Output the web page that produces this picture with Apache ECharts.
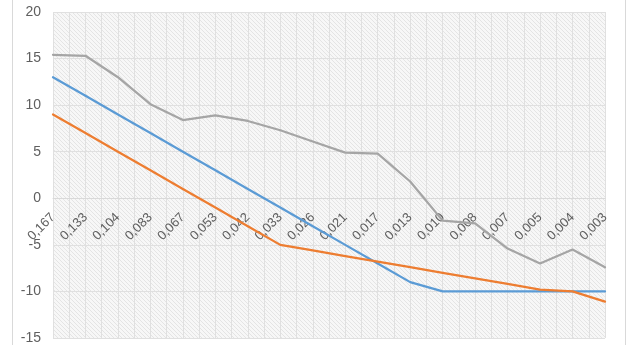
<!DOCTYPE html>
<html>
<head>
<meta charset="utf-8">
<style>
  html, body { margin: 0; padding: 0; background: #ffffff; }
  #chart { width: 628px; height: 345px; }
</style>
<script src="https://cdn.jsdelivr.net/npm/echarts@6/dist/echarts.min.js"></script>
</head>
<body>
<div id="chart"></div>
<script>
// Category labels along the horizontal axis (decimal comma, as printed)
const categories = ['0,167', '0,133', '0,104', '0,083', '0,067', '0,053', '0,042', '0,033', '0,026',
                    '0,021', '0,017', '0,013', '0,010', '0,008', '0,007', '0,005', '0,004', '0,003'];

// Series values
const blueValues   = [13, 11, 9, 7, 5, 3, 1, -1, -3, -5, -7, -9, -10, -10, -10, -10, -10, -10];
const orangeValues = [9, 7, 5, 3, 1, -1, -3, -5, -5.6, -6.2, -6.8, -7.4, -8.0, -8.6, -9.2, -9.8, -10.0, -11.1];
const grayValues   = [15.4, 15.3, 13.0, 10.1, 8.4, 8.9, 8.3, 7.3, 6.1, 4.9, 4.8, 1.8, -2.4, -2.7, -5.4, -7.0, -5.5, -7.4];

// Value axis range
const yMin = -15, yMax = 20, yStep = 5;

// Diagonal hatch tile used as the plot-area fill
function hatchTile() {
  const size = 4;
  const c = document.createElement('canvas');
  c.width = size; c.height = size;
  const g = c.getContext('2d');
  g.fillStyle = '#f7f7f7';
  g.fillRect(0, 0, size, size);
  g.fillStyle = '#e4e4e4';
  for (let i = 0; i < size; i++) g.fillRect(i, i, 1, 1);
  return c;
}

const font = 'Liberation Sans, Arial, sans-serif';
const labelColor = '#5f5f5f';
const gridColor = '#e0e0e0';
const plotBox = { left: 53, right: 23, top: 12, bottom: 7 };

const chart = echarts.init(document.getElementById('chart'), null, { renderer: 'canvas' });

function lineSeries(values, color) {
  return {
    type: 'line',
    xAxisIndex: 0,
    yAxisIndex: 0,
    data: values,
    symbol: 'none',
    smooth: false,
    lineStyle: { color: color, width: 2.25, join: 'round', cap: 'round' },
    emphasis: { disabled: true },
    animation: false,
    z: 3
  };
}

chart.setOption({
  animation: false,
  backgroundColor: '#ffffff',
  textStyle: { fontFamily: font },
  graphic: [{
    type: 'rect',
    silent: true,
    shape: { x: 12.5, y: -5, width: 613, height: 360 },
    style: { fill: 'none', stroke: '#d9d9d9', lineWidth: 1 }
  }],
  grid: [
    Object.assign({
      show: true,
      borderWidth: 0,
      outerBoundsMode: 'none',
      containLabel: false,
      backgroundColor: { image: hatchTile(), repeat: 'repeat' },
      z: 0
    }, plotBox),
    // overlay grid carrying the half-step vertical gridlines
    Object.assign({ show: false, outerBoundsMode: 'none', containLabel: false }, plotBox)
  ],
  xAxis: [{
    type: 'category',
    gridIndex: 0,
    data: categories,
    boundaryGap: false,
    offset: 0,
    axisLine: { onZero: false, lineStyle: { color: '#d9d9d9', width: 1 } },
    axisTick: { show: false },
    splitLine: { show: false },
    axisLabel: {
      rotate: 45,
      interval: 0,
      margin: 17,
      color: labelColor,
      fontSize: 13,
      fontFamily: font
    },
    z: 2
  }, {
    type: 'value',
    gridIndex: 1,
    min: 0, max: categories.length - 1, interval: 0.5,
    axisLine: { show: false, onZero: false },
    axisTick: { show: false },
    axisLabel: { show: false },
    splitLine: { show: true, lineStyle: { color: gridColor, width: 1 } },
    z: 1
  }],
  yAxis: [{
    type: 'value',
    gridIndex: 0,
    min: yMin, max: yMax, interval: yStep,
    axisLine: { show: false, onZero: false },
    axisTick: { show: false },
    axisLabel: { color: labelColor, fontSize: 14, margin: 12, fontFamily: font },
    splitLine: { show: true, lineStyle: { color: gridColor, width: 1 } },
    z: 1
  }, {
    type: 'value',
    gridIndex: 1,
    min: 0, max: 1,
    show: false
  }],
  series: [
    lineSeries(blueValues, '#5b9bd5'),
    lineSeries(orangeValues, '#ed7d31'),
    lineSeries(grayValues, '#a5a5a5')
  ]
});

// Lift the category axis (line and labels) up to the value-axis zero
const zeroY = chart.convertToPixel({ yAxisIndex: 0 }, 0);
const baseY = chart.convertToPixel({ yAxisIndex: 0 }, yMin);
chart.setOption({ xAxis: [{ offset: zeroY - baseY }, {}] });
</script>
</body>
</html>
